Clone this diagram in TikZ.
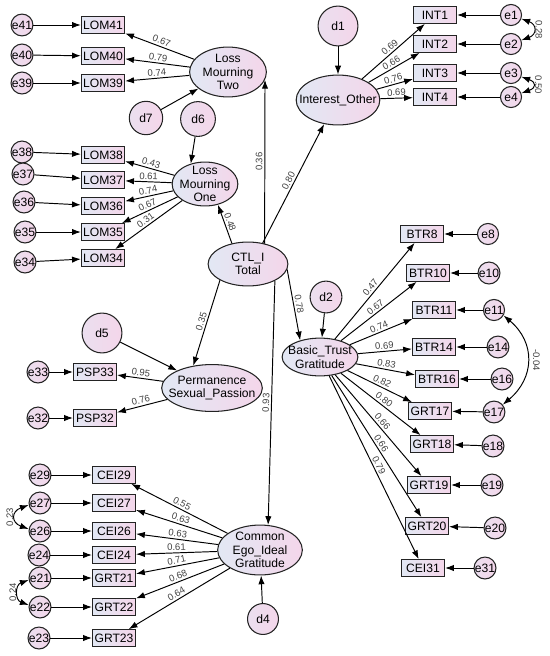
\documentclass[tikz,border=0pt]{standalone}
\usepackage{fontspec}
\setmainfont{Liberation Sans}
\usepackage{tikz}
\usetikzlibrary{arrows.meta,shapes.geometric}
\definecolor{izq}{RGB}{226,232,244}
\definecolor{der}{RGB}{244,214,234}
\definecolor{borde}{RGB}{35,35,35}

\begin{document}
\begin{tikzpicture}[x=0.02cm, y=-0.02cm,
    indicador/.style={draw=borde, line width=0.6pt, left color=izq, right color=der,
                 minimum width=24.5pt, minimum height=9.5pt, inner sep=1pt,
                 font=\fontsize{6.9}{8}\selectfont},
    error/.style={circle, draw=borde, line width=0.6pt, left color=izq!50!der, right color=der,
                 minimum size=12pt, inner sep=0pt, font=\fontsize{6.9}{8}\selectfont},
    perturb/.style={error, minimum size=19pt},
    latente/.style={ellipse, draw=borde, line width=0.6pt, left color=izq, right color=der,
                 inner xsep=-8pt, inner ysep=-3pt, align=center,
                 font=\fontsize{6.9}{7.6}\selectfont},
    flecha/.style={-{Latex[length=5pt,width=3.6pt]}, line width=0.55pt},
    covar/.style={{Latex[length=5pt,width=3.6pt]}-{Latex[length=5pt,width=3.6pt]}, line width=0.55pt},
    carga/.style={font=\fontsize{5.4}{6}\selectfont, text=black!75, inner sep=1pt}]
  \useasboundingbox (0,0) rectangle (550,656);

  % latent variables
  \node[latente, minimum width=43.7pt, minimum height=28.4pt] (lmt) at (228,72) {Loss\\Mourning\\Two};
  \node[latente, minimum width=37.4pt, minimum height=25pt] (lmo) at (205,184) {Loss\\Mourning\\One};
  \node[latente, minimum width=45.4pt, minimum height=25pt] (ctl) at (248,264) {CTL\_I\\Total};
  \node[latente, minimum width=57.3pt, minimum height=26.7pt] (psp) at (212,388) {Permanence\\Sexual\_Passion};
  \node[latente, minimum width=48.2pt, minimum height=28.4pt] (ceg) at (260,550) {Common\\Ego\_Ideal\\Gratitude};
  \node[latente, minimum width=47.6pt, minimum height=28.4pt] (io) at (338,100) {Interest\_Other};
  \node[latente, minimum width=43.1pt, minimum height=21.5pt] (bt) at (320,357) {Basic\_Trust\\Gratitude};

  % disturbances
  \node[perturb] (d7) at (146,118) {d7};
  \node[perturb, minimum size=19.8pt] (d6) at (198,119) {d6};
  \node[perturb, minimum size=22.7pt] (d5) at (102,333) {d5};
  \node[perturb, minimum size=17.6pt] (d4) at (263,619) {d4};
  \node[perturb, minimum size=22.7pt] (d1) at (338,26) {d1};
  \node[perturb, minimum size=18.1pt] (d2) at (326,297) {d2};

  % Loss Mourning Two
  \node[error] (e41) at (22,25) {e41};
  \node[indicador] (lom41) at (103,25) {LOM41};
  \node[error] (e40) at (22,55) {e40};
  \node[indicador] (lom40) at (103,56) {LOM40};
  \node[error] (e39) at (22,83) {e39};
  \node[indicador] (lom39) at (103,83) {LOM39};

  % Loss Mourning One
  \node[error] (e38) at (22,152) {e38};
  \node[indicador] (lom38) at (103,155) {LOM38};
  \node[error] (e37) at (23,174) {e37};
  \node[indicador] (lom37) at (103,180) {LOM37};
  \node[error] (e36) at (24,202) {e36};
  \node[indicador] (lom36) at (103,206) {LOM36};
  \node[error] (e35) at (25,232) {e35};
  \node[indicador] (lom35) at (103,232) {LOM35};
  \node[error] (e34) at (25,262) {e34};
  \node[indicador] (lom34) at (103,258) {LOM34};

  % Permanence
  \node[error] (e33) at (38,372) {e33};
  \node[indicador] (psp33) at (95,372) {PSP33};
  \node[error] (e32) at (38,418) {e32};
  \node[indicador] (psp32) at (95,418) {PSP32};

  % Common Ego Ideal
  \node[error] (e29) at (40,475) {e29};
  \node[indicador] (cei29) at (114,475) {CEI29};
  \node[error] (e27) at (40,503) {e27};
  \node[indicador] (cei27) at (114,503) {CEI27};
  \node[error] (e26) at (40,531) {e26};
  \node[indicador] (cei26) at (114,531) {CEI26};
  \node[error] (e24) at (39,555) {e24};
  \node[indicador] (cei24) at (114,555) {CEI24};
  \node[error] (e21) at (40,578) {e21};
  \node[indicador] (grt21) at (114,578) {GRT21};
  \node[error] (e22) at (40,607) {e22};
  \node[indicador] (grt22) at (114,607) {GRT22};
  \node[error] (e23) at (39,638) {e23};
  \node[indicador] (grt23) at (114,638) {GRT23};

  % Interest Other
  \node[indicador] (int1) at (435,15) {INT1};
  \node[error] (e1) at (511,15) {e1};
  \node[indicador] (int2) at (435,44) {INT2};
  \node[error] (e2) at (511,44) {e2};
  \node[indicador] (int3) at (435,73) {INT3};
  \node[error] (e3) at (511,73) {e3};
  \node[indicador] (int4) at (435,97) {INT4};
  \node[error] (e4) at (511,97) {e4};

  % Basic Trust
  \node[indicador] (btr8) at (422,234) {BTR8};
  \node[error] (e8) at (488,234) {e8};
  \node[indicador] (btr10) at (428,273) {BTR10};
  \node[error] (e10) at (489,273) {e10};
  \node[indicador] (btr11) at (434,310) {BTR11};
  \node[error] (e11) at (494,310) {e11};
  \node[indicador] (btr14) at (434,347) {BTR14};
  \node[error] (e14) at (498,347) {e14};
  \node[indicador] (btr16) at (437,379) {BTR16};
  \node[error] (e16) at (502,379) {e16};
  \node[indicador] (grt17) at (430,411) {GRT17};
  \node[error] (e17) at (494,412) {e17};
  \node[indicador] (grt18) at (432,444) {GRT18};
  \node[error] (e18) at (493,446) {e18};
  \node[indicador] (grt19) at (429,485) {GRT19};
  \node[error] (e19) at (492,485) {e19};
  \node[indicador] (grt20) at (427,526) {GRT20};
  \node[error] (e20) at (495,528) {e20};
  \node[indicador] (cei31) at (423,568) {CEI31};
  \node[error] (e31) at (485,568) {e31};

  % structural paths
  \draw[flecha] (ctl.51) -- node[carga, midway, anchor=south, rotate=90] {0.36} (lmt.-12);
  \draw[flecha] (ctl.128) -- node[carga, midway, above, sloped] {0.48} (lmo.-58);
  \draw[flecha] (ctl.55) -- node[carga, midway, above, sloped] {0.80} (io.-120);
  \draw[flecha] (ctl.210) -- node[carga, midway, above, sloped] {0.35} (psp.130);
  \draw[flecha] (ctl.-32) -- node[carga, midway, above, sloped] {0.93} (ceg.72);
  \draw[flecha] (ctl.-8) -- node[carga, midway, above, sloped] {0.78} (bt.140);
  \draw[flecha] (d7) -- (lmt);
  \draw[flecha] (d6) -- (lmo.125);
  \draw[flecha] (d5) -- (psp);
  \draw[flecha] (d4) -- (ceg);
  \draw[flecha] (d1) -- (io);
  \draw[flecha] (d2) -- (bt);

  % loadings
  \draw[flecha] (lmt) -- node[carga, midway, above, sloped] {0.67} (lom41);
  \draw[flecha] (lmt) -- node[carga, midway, above, sloped] {0.79} (lom40);
  \draw[flecha] (lmt) -- node[carga, midway, above, sloped] {0.74} (lom39);
  \draw[flecha] (lmo) -- node[carga, midway, above, sloped] {0.43} (lom38);
  \draw[flecha] (lmo) -- node[carga, midway, above, sloped] {0.61} (lom37);
  \draw[flecha] (lmo) -- node[carga, midway, above, sloped] {0.74} (lom36);
  \draw[flecha] (lmo) -- node[carga, midway, above, sloped] {0.67} (lom35);
  \draw[flecha] (lmo) -- node[carga, midway, above, sloped] {0.31} (lom34);
  \draw[flecha] (psp) -- node[carga, midway, above, sloped] {0.95} (psp33);
  \draw[flecha] (psp) -- node[carga, midway, above, sloped] {0.76} (psp32);
  \draw[flecha] (ceg) -- node[carga, midway, above, sloped] {0.55} (cei29);
  \draw[flecha] (ceg) -- node[carga, midway, above, sloped] {0.63} (cei27);
  \draw[flecha] (ceg) -- node[carga, midway, above, sloped] {0.63} (cei26);
  \draw[flecha] (ceg) -- node[carga, midway, above, sloped] {0.61} (cei24);
  \draw[flecha] (ceg) -- node[carga, midway, above, sloped] {0.71} (grt21);
  \draw[flecha] (ceg) -- node[carga, midway, above, sloped] {0.68} (grt22);
  \draw[flecha] (ceg) -- node[carga, midway, above, sloped] {0.64} (grt23);
  \draw[flecha] (io) -- node[carga, midway, above, sloped] {0.69} (int1);
  \draw[flecha] (io) -- node[carga, midway, above, sloped] {0.66} (int2);
  \draw[flecha] (io) -- node[carga, midway, above, sloped] {0.76} (int3);
  \draw[flecha] (io) -- node[carga, midway, above, sloped] {0.69} (int4);
  \draw[flecha] (bt) -- node[carga, midway, above, sloped] {0.47} (btr8);
  \draw[flecha] (bt) -- node[carga, midway, above, sloped] {0.67} (btr10);
  \draw[flecha] (bt) -- node[carga, midway, above, sloped] {0.74} (btr11);
  \draw[flecha] (bt) -- node[carga, midway, above, sloped] {0.69} (btr14);
  \draw[flecha] (bt) -- node[carga, midway, above, sloped] {0.83} (btr16);
  \draw[flecha] (bt) -- node[carga, midway, above, sloped] {0.82} (grt17);
  \draw[flecha] (bt) -- node[carga, midway, above, sloped] {0.80} (grt18);
  \draw[flecha] (bt) -- node[carga, midway, above, sloped] {0.66} (grt19);
  \draw[flecha] (bt) -- node[carga, midway, above, sloped] {0.66} (grt20);
  \draw[flecha] (bt) -- node[carga, midway, above, sloped] {0.79} (cei31);

  % errors
  \draw[flecha] (e41) -- (lom41);
  \draw[flecha] (e40) -- (lom40);
  \draw[flecha] (e39) -- (lom39);
  \draw[flecha] (e38) -- (lom38);
  \draw[flecha] (e37) -- (lom37);
  \draw[flecha] (e36) -- (lom36);
  \draw[flecha] (e35) -- (lom35);
  \draw[flecha] (e34) -- (lom34);
  \draw[flecha] (e33) -- (psp33);
  \draw[flecha] (e32) -- (psp32);
  \draw[flecha] (e29) -- (cei29);
  \draw[flecha] (e27) -- (cei27);
  \draw[flecha] (e26) -- (cei26);
  \draw[flecha] (e24) -- (cei24);
  \draw[flecha] (e21) -- (grt21);
  \draw[flecha] (e22) -- (grt22);
  \draw[flecha] (e23) -- (grt23);
  \draw[flecha] (e1) -- (int1);
  \draw[flecha] (e2) -- (int2);
  \draw[flecha] (e3) -- (int3);
  \draw[flecha] (e4) -- (int4);
  \draw[flecha] (e8) -- (btr8);
  \draw[flecha] (e10) -- (btr10);
  \draw[flecha] (e11) -- (btr11);
  \draw[flecha] (e14) -- (btr14);
  \draw[flecha] (e16) -- (btr16);
  \draw[flecha] (e17) -- (grt17);
  \draw[flecha] (e18) -- (grt18);
  \draw[flecha] (e19) -- (grt19);
  \draw[flecha] (e20) -- (grt20);
  \draw[flecha] (e31) -- (cei31);

  % covariances
  \draw[covar] (e1.-20) to[bend left=70, looseness=2]
    node[carga, midway, anchor=south, rotate=-90] {0.28} (e2.20);
  \draw[covar] (e3.-20) to[bend left=70, looseness=2.5]
    node[carga, midway, anchor=south, rotate=-90] {0.50} (e4.20);
  \draw[covar] (e11.-30) to[out=-40, in=40, looseness=1.2]
    node[carga, midway, anchor=south, rotate=-90, inner sep=3pt] {-0.04} (e17.40);
  \draw[covar] (e27.190) to[bend right=70, looseness=2]
    node[carga, midway, anchor=south, rotate=90] {0.23} (e26.170);
  \draw[covar] (e21.190) to[bend right=70, looseness=1.5]
    node[carga, midway, anchor=south, rotate=90] {0.24} (e22.170);
\end{tikzpicture}
\end{document}
